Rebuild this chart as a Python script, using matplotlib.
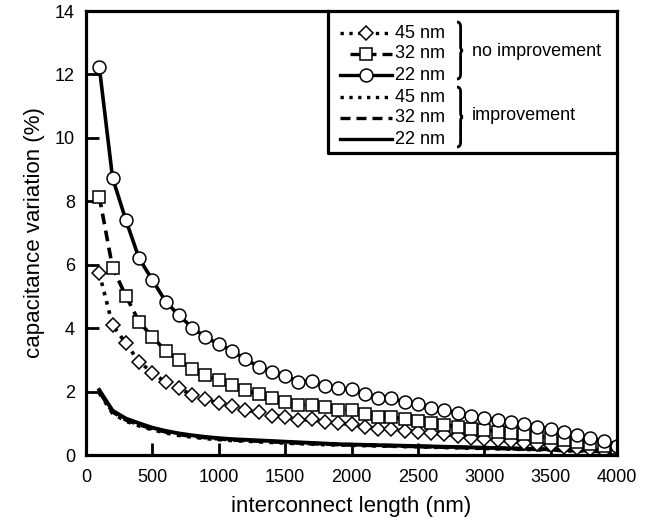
import matplotlib.pyplot as plt
from matplotlib.path import Path
from matplotlib.patches import PathPatch

plt.rcParams['font.family'] = ['Liberation Sans', 'DejaVu Sans']

# interconnect length (nm)
lengths = list(range(100, 4001, 100))

# no improvement (markers)
noimp_45 = [5.73, 4.10, 3.52, 2.94, 2.60, 2.29, 2.11, 1.89, 1.76, 1.63,
            1.55, 1.42, 1.35, 1.24, 1.21, 1.10, 1.12, 1.03, 1.00, 0.97,
            0.89, 0.82, 0.82, 0.77, 0.74, 0.68, 0.65, 0.60, 0.55, 0.50,
            0.47, 0.44, 0.39, 0.35, 0.31, 0.26, 0.21, 0.18, 0.14, 0.10]
noimp_32 = [8.15, 5.91, 5.02, 4.20, 3.73, 3.28, 3.00, 2.70, 2.52, 2.37,
            2.21, 2.05, 1.91, 1.79, 1.68, 1.58, 1.58, 1.50, 1.42, 1.42,
            1.29, 1.21, 1.21, 1.12, 1.08, 1.00, 0.95, 0.89, 0.81, 0.79,
            0.74, 0.70, 0.65, 0.58, 0.55, 0.47, 0.40, 0.35, 0.28, 0.22]
noimp_22 = [12.24, 8.74, 7.41, 6.20, 5.52, 4.84, 4.40, 4.02, 3.71, 3.50,
            3.29, 3.02, 2.79, 2.63, 2.50, 2.31, 2.34, 2.18, 2.10, 2.07,
            1.92, 1.79, 1.79, 1.67, 1.60, 1.47, 1.42, 1.31, 1.23, 1.16,
            1.10, 1.05, 0.98, 0.89, 0.82, 0.72, 0.62, 0.53, 0.44, 0.28]

# improvement (plain lines)
imp_45 = [1.96, 1.32, 1.07, 0.92, 0.80, 0.70, 0.62, 0.57, 0.52, 0.49,
          0.46, 0.44, 0.42, 0.40, 0.38, 0.36, 0.35, 0.33, 0.32, 0.31,
          0.30, 0.29, 0.28, 0.27, 0.26, 0.25, 0.24, 0.23, 0.22, 0.21,
          0.20, 0.19, 0.18, 0.17, 0.16, 0.14, 0.13, 0.11, 0.10, 0.08]
imp_32 = [2.00, 1.36, 1.11, 0.96, 0.83, 0.73, 0.65, 0.59, 0.55, 0.51,
          0.48, 0.46, 0.44, 0.42, 0.40, 0.38, 0.36, 0.35, 0.33, 0.32,
          0.31, 0.30, 0.29, 0.28, 0.27, 0.26, 0.25, 0.24, 0.23, 0.22,
          0.21, 0.20, 0.19, 0.18, 0.17, 0.15, 0.14, 0.12, 0.11, 0.09]
imp_22 = [2.05, 1.40, 1.15, 1.00, 0.86, 0.76, 0.68, 0.62, 0.57, 0.53,
          0.50, 0.48, 0.46, 0.44, 0.42, 0.40, 0.38, 0.36, 0.34, 0.33,
          0.32, 0.31, 0.30, 0.29, 0.28, 0.27, 0.26, 0.25, 0.24, 0.23,
          0.22, 0.21, 0.20, 0.19, 0.18, 0.16, 0.15, 0.13, 0.12, 0.10]

node_labels = ['45 nm', '32 nm', '22 nm']
group_labels = ['no improvement', 'improvement']

# axes box in pixels
W, H = 651, 526
L, R, T, B = 86, 617, 11, 455


def fx(px):
    return (px - L) / (R - L)


def fy(py):
    return (B - py) / (B - T)


fig = plt.figure(figsize=(W / 100, H / 100), dpi=100)
ax = fig.add_axes([L / W, (H - B) / H, (R - L) / W, (B - T) / H])

dash32 = (3.0, 1.8)
styles_noimp = [
    dict(ls=':', marker='D', ms=7),
    dict(ls='--', dashes=dash32, marker='s', ms=8.8),
    dict(ls='-', marker='o', ms=9.3),
]
styles_imp = [dict(ls=':'), dict(ls='--', dashes=dash32), dict(ls='-')]

for ys, st in zip([imp_45, imp_32, imp_22], styles_imp):
    ax.plot(lengths, ys, color='black', lw=2.8, **st)

for ys, st in zip([noimp_45, noimp_32, noimp_22], styles_noimp):
    ax.plot(lengths, ys, color='black', lw=2.6, mfc='white', mec='black',
            mew=1.1, **st)

ax.set_xlim(0, 4000)
ax.set_ylim(0, 14)
ax.set_xticks(range(0, 4001, 500))
ax.set_yticks(range(0, 15, 2))
ax.tick_params(direction='in', length=9, width=2, labelsize=13, pad=8)
ax.tick_params(axis='x', pad=10)
for sp in ax.spines.values():
    sp.set_linewidth(2.3)
ax.set_xlabel('interconnect length (nm)', fontsize=16, labelpad=7)
ax.set_ylabel('capacitance variation (%)', fontsize=16, labelpad=7)

# hand-drawn legend box
tr = ax.transAxes
ax.plot([fx(328), fx(328), fx(R)], [fy(T), fy(153), fy(153)], color='black',
        lw=2.3, transform=tr, clip_on=False)

rows = [33, 54, 75, 97, 118, 139]
all_styles = styles_noimp + styles_imp
for i, (py, st) in enumerate(zip(rows, all_styles)):
    x1 = 350 if i == 1 else 340
    ax.plot([fx(x1), fx(366), fx(392)], [fy(py)] * 3, color='black', lw=2.4,
            mfc='white', mec='black', mew=1.1, markevery=[1],
            transform=tr, clip_on=False, **st)
    ax.text(fx(395), fy(py), node_labels[i % 3], fontsize=13, ha='left',
            va='center', transform=tr)


def brace(top, bot, x0=457, w=6):
    mid = (top + bot) / 2
    xm = x0 + w * 0.6
    verts = [(x0, top), (xm, top), (xm, top + 5),
             (xm, mid - 4), (xm, mid), (x0 + w, mid),
             (xm, mid), (xm, mid + 4), (xm, bot - 5),
             (xm, bot), (x0, bot)]
    codes = [Path.MOVETO, Path.CURVE3, Path.CURVE3,
             Path.LINETO, Path.CURVE3, Path.CURVE3,
             Path.CURVE3, Path.CURVE3, Path.LINETO,
             Path.CURVE3, Path.CURVE3]
    verts = [(fx(a), fy(b)) for a, b in verts]
    ax.add_patch(PathPatch(Path(verts, codes), fc='none', ec='black',
                           lw=2.0, transform=tr, clip_on=False))


brace(22, 79)
brace(87, 147)
ax.text(fx(472), fy(52), group_labels[0], fontsize=13, ha='left',
        va='center', transform=tr)
ax.text(fx(472), fy(116), group_labels[1], fontsize=13, ha='left',
        va='center', transform=tr)

fig.savefig('out.png', dpi=100)
